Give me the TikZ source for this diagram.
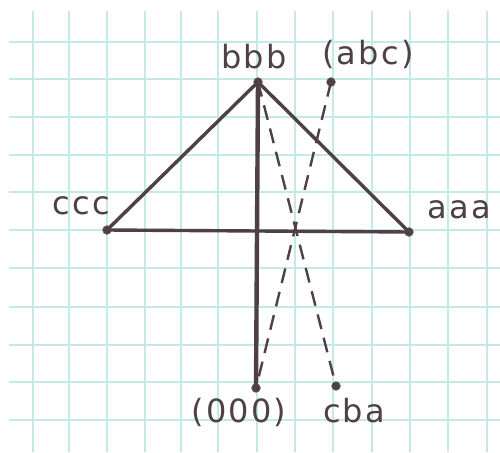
\documentclass[tikz,border=0pt]{standalone}
\usepackage{fontspec}
\setmainfont{DejaVu Sans}
\definecolor{ink}{HTML}{4E4044}
\definecolor{gridc}{HTML}{C4EAE8}
\begin{document}
\begin{tikzpicture}[x=1pt,y=-1pt,
  dot/.style={circle,fill=ink,draw=ink!70,inner sep=0pt,minimum size=9pt},
  lbl/.style={text=ink,font=\fontsize{32}{32}\selectfont\addfontfeature{LetterSpace=7},inner sep=0pt},
  solidline/.style={draw=ink,line width=3.4pt,line cap=round},
  thickline/.style={draw=ink,line width=4.4pt,line cap=round},
  dashline/.style={draw=ink,line width=2.4pt,dash pattern=on 15pt off 9pt}]
\useasboundingbox (0,0) rectangle (500,452);
\fill[white] (0,0) rectangle (500,452);
\begin{scope}
\clip (9,11) rectangle (500,452);
\foreach \x in {33,69,107,145,181,218,257,295,333,372,410,448,487}
  \draw[gridc,line width=1.2pt] (\x,11) -- (\x,452);
\foreach \y in {42,79,117,155,192,230,268,307,345,382,420}
  \draw[gridc,line width=1.2pt] (9,\y) -- (500,\y);
\end{scope}
% points
\node[dot] (bbb) at (258,82) {};
\node[dot] (abc) at (331,82) {};
\node[dot] (ccc) at (107,230) {};
\node[dot] (aaa) at (409,232) {};
\node[dot] (ooo) at (256,388) {};
\node[dot] (cba) at (336,386) {};
% connectors
\draw[solidline] (bbb.center) -- (ccc.center);
\draw[solidline] (bbb.center) -- (aaa.center);
\draw[solidline] (ccc.center) -- (aaa.center);
\draw[thickline] (bbb.center) -- (ooo.center);
\draw[dashline] (bbb.center) -- (cba.center);
\draw[dashline] (abc.center) -- (ooo.center);
% labels
\node[lbl] (lbbb) at (254,57) {bbb};
\node[lbl] (labc) at (368,54) {(abc)};
\node[lbl] (lccc) at (81,206) {ccc};
\node[lbl] (laaa) at (459,210) {aaa};
\node[lbl] (looo) at (239,412) {(000)};
\node[lbl] (lcba) at (354,411) {cba};
\end{tikzpicture}
\end{document}
